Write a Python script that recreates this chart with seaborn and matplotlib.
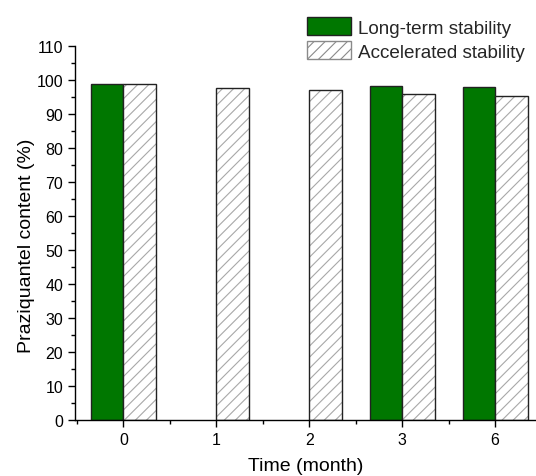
import numpy as np
import pandas as pd
import seaborn as sns
import matplotlib.pyplot as plt
from matplotlib.patches import Rectangle, Patch
from matplotlib.ticker import MultipleLocator, AutoMinorLocator

# Praziquantel content over storage time
months = ["0", "1", "2", "3", "6"]
long_term = [99.0, np.nan, np.nan, 98.2, 97.9]
accelerated = [98.8, 97.8, 97.1, 96.0, 95.3]
conditions = ["Long-term stability", "Accelerated stability"]

df = pd.DataFrame({
    "Month": months * 2,
    "Content": long_term + accelerated,
    "Condition": [conditions[0]] * len(months) + [conditions[1]] * len(months),
})

sns.set_theme(style="ticks")
plt.rcParams["font.family"] = ["Liberation Sans", "DejaVu Sans"]
plt.rcParams["hatch.linewidth"] = 0.8

GREEN = "#007700"
OUTLINE = "#222222"
HATCH = "#a8a8a8"

fig = plt.figure(figsize=(5.36, 4.77), dpi=100)
ax = fig.add_axes([0.140, 0.1174, 0.860, 0.7834])

sns.barplot(
    data=df, x="Month", y="Content", hue="Condition",
    order=months, hue_order=conditions,
    palette={conditions[0]: GREEN, conditions[1]: "white"},
    width=0.7, gap=0, saturation=1, errorbar=None,
    edgecolor=OUTLINE, linewidth=1.0, legend=False, ax=ax,
)

# Hatched bars: grey hatch lines with a dark outline drawn on top
for bar in ax.containers[1]:
    bar.set_edgecolor(HATCH)
    bar.set_hatch("///")
    bar.set_linewidth(0)
    ax.add_patch(Rectangle(bar.get_xy(), bar.get_width(), bar.get_height(),
                           fill=False, edgecolor=OUTLINE, linewidth=1.0,
                           zorder=bar.get_zorder() + 0.1))

ax.set_ylim(0, 110)
ax.set_xlim(-0.52, 4.44)
ax.yaxis.set_major_locator(MultipleLocator(10))
ax.yaxis.set_minor_locator(MultipleLocator(5))
ax.xaxis.set_minor_locator(AutoMinorLocator(2))

ax.tick_params(which="both", direction="out", color="black", width=1.0,
               labelsize=11.5, labelcolor="black")
ax.tick_params(which="major", length=5)
ax.tick_params(which="minor", length=3)

for side in ["top", "right"]:
    ax.spines[side].set_visible(False)
for side in ["left", "bottom"]:
    ax.spines[side].set_color("black")
    ax.spines[side].set_linewidth(1.0)

ax.set_xlabel("Time (month)", fontsize=14, color="black", labelpad=7)
ax.set_ylabel("Praziquantel content (%)", fontsize=14, color="black")
ax.yaxis.set_label_coords(-0.086, 0.47)

handles = [
    Patch(facecolor=GREEN, edgecolor=OUTLINE, linewidth=1.0, label=conditions[0]),
    Patch(facecolor="white", edgecolor="#8a8a8a", hatch="///", linewidth=1.0,
          label=conditions[1]),
]
fig.legend(handles=handles, loc="upper left", bbox_to_anchor=(0.573, 0.962),
           frameon=False, fontsize=13.6, handlelength=2.33, handleheight=1.1,
           handletextpad=0.35, labelspacing=0.25, borderpad=0, borderaxespad=0)

fig.savefig("out.png", dpi=100)
